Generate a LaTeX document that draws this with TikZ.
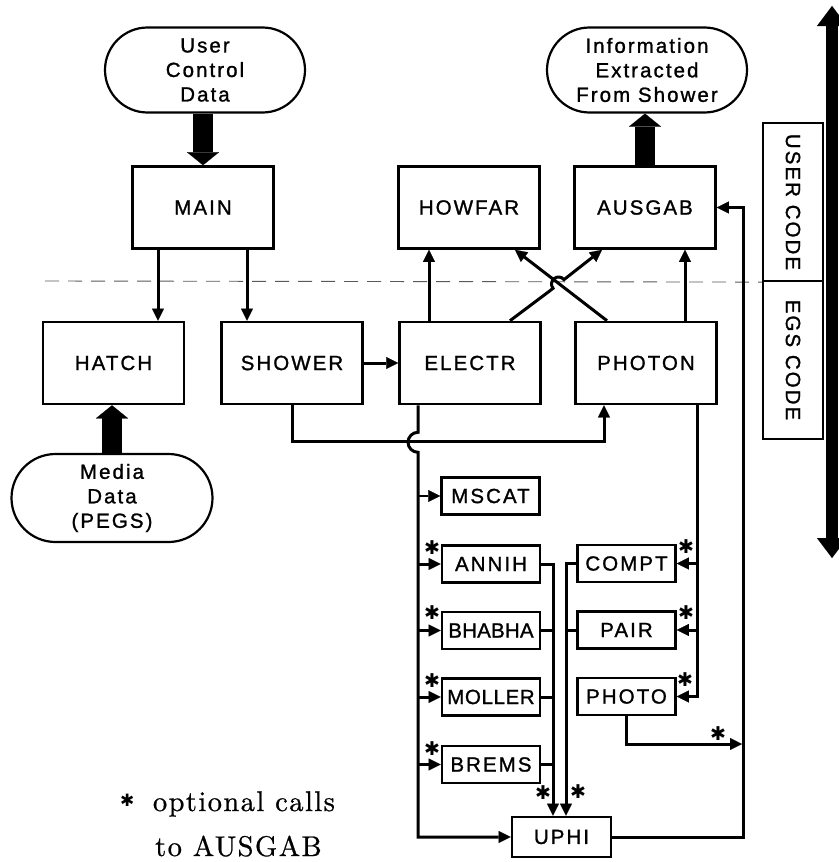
\documentclass[tikz,border=0pt]{standalone}
\usepackage{fontspec}
\usepackage{graphicx}
\newfontfamily\labfont[LetterSpace=10,FakeBold=1.2]{Liberation Sans}
\newfontfamily\legfont[LetterSpace=5,FakeBold=0.7]{lmroman10-regular.otf}
\newfontfamily\starfont{DejaVu Sans}
\usetikzlibrary{arrows.meta,shapes.misc,calc}
\begin{document}
\begin{tikzpicture}[x=1pt,y=1pt,
  lab/.style={font=\labfont\fontsize{20.5}{24.5}\selectfont},
  bigbox/.style={draw,line width=2.6pt,minimum width=141pt,minimum height=82pt,inner sep=0pt,lab},
  smallbox/.style={draw,line width=2.6pt,minimum width=98pt,minimum height=37pt,inner sep=0pt,lab},
  stadium/.style={draw,rounded rectangle,line width=2.2pt,minimum width=200pt,minimum height=85pt,inner sep=0pt,align=center,lab},
  codebox/.style={draw,line width=2.2pt,minimum width=60pt,minimum height=158pt,inner sep=0pt,lab},
  conn/.style={line width=3pt,-{Triangle[length=12pt,width=12pt,line width=0.1pt]}},
  plain/.style={line width=3pt},
  fat/.style={line width=20pt,-{Triangle[length=13pt,width=32pt,line width=0.1pt]}},
  starmark/.style={inner sep=0pt,font=\starfont\fontsize{19}{19}\selectfont},
  legend/.style={anchor=base west,inner sep=0pt,font=\legfont\fontsize{28.5}{33}\selectfont},
  ]
\useasboundingbox (0,0) rectangle (838,-862);

% terminals
\node[stadium] (ucd) at (205,-70) {User\\Control\\Data};
\node[stadium] (info) at (647,-70) {Information\\Extracted\\From Shower};
\node[stadium,minimum width=201pt,minimum height=88pt] (media) at (112,-498) {Media\\Data\\(PEGS)};

% big boxes
\node[bigbox] (main) at (203,-207.5) {MAIN};
\node[bigbox] (howfar) at (469,-207.5) {HOWFAR};
\node[bigbox] (ausgab) at (645,-207.5) {AUSGAB};
\node[bigbox] (hatch) at (113.5,-363) {HATCH};
\node[bigbox] (shower) at (292,-363) {SHOWER};
\node[bigbox] (electr) at (470,-363) {ELECTR};
\node[bigbox] (photon) at (646,-363) {PHOTON};

% small boxes
\node[smallbox] (mscat) at (490.5,-496) {MSCAT};
\node[smallbox] (annih) at (491,-564) {ANNIH};
\node[smallbox] (bhabha) at (491,-630.5) {\addfontfeatures{LetterSpace=1}BHABHA};
\node[smallbox] (moller) at (491,-697) {\addfontfeatures{LetterSpace=3}MOLLER};
\node[smallbox] (brems) at (491,-764.5) {BREMS};
\node[smallbox] (compt) at (626.5,-563.5) {COMPT};
\node[smallbox] (pair) at (626.5,-630) {PAIR};
\node[smallbox] (photo) at (626.5,-696.5) {PHOTO};
\node[smallbox,minimum width=99pt,minimum height=40pt] (uphi) at (561.5,-837) {UPHI};

% code boxes
\node[codebox] (ucbox) at (793,-202) {\rotatebox{-90}{USER CODE}};
\node[codebox] (egsbox) at (793,-360) {\rotatebox{-90}{EGS CODE}};

% free coordinates
\coordinate (dl) at (45,-281);
\coordinate (bt) at (832,-6);
\coordinate (bb) at (832,-558);
\coordinate (m1) at ($(main.south)+(-45,0)$);
\coordinate (m2) at ($(main.south)+(44,0)$);
\coordinate (e1) at ($(electr.north)+(-41,0)$);
\coordinate (p1) at ($(photon.north)+(39,0)$);
\coordinate (sp) at (604,-441);
\coordinate (ev) at ($(electr.south)+(-52,0)$);
\coordinate (pv) at ($(photon.south)+(51,0)$);
\coordinate (ml) at ($(uphi.north)+(-8.5,0)$);
\coordinate (mr) at ($(uphi.north)+(4.5,0)$);
\coordinate (rv) at ($(ausgab.east)+(27,0)$);
\coordinate (pj) at (742,-744);

% dashed separator
\draw[line width=0.9pt,dash pattern=on 14pt off 9pt,black!65] (dl) -- (ucbox.south west);

% big double arrow
\draw[line width=12pt,{Triangle[length=20pt,width=30pt,line width=0.1pt]}-{Triangle[length=20pt,width=30pt,line width=0.1pt]}] (bt) -- (bb);

% fat data arrows
\draw[fat] (ucd.south -| main.north) -- (main.north);
\draw[fat] (ausgab.north) -- (ausgab.north |- info.south);
\draw[fat] (media.north) -- (media.north |- hatch.south);

% upper connectors
\draw[conn] (m1) -- (m1 |- hatch.north);
\draw[conn] (m2) -- (m2 |- shower.north);
\draw[conn] (shower.east) -- (electr.west);
\draw[conn] (e1) -- (e1 |- howfar.south);
\draw[conn] (p1) -- (p1 |- ausgab.south);
\draw[conn] ($(photon.north)+(-39,0)$) -- ($(howfar.south)+(46,0)$);
\draw[conn] ($(electr.north)+(40,0)$) -- (553.05,-288.39)
  arc[start angle=218.8,end angle=38.8,radius=7] -- ($(ausgab.south)+(-43,0)$);
\draw[conn] (shower.south) |- (sp) -- (sp |- photon.south);

% electron branch
\draw[conn] (ev) -- ++(0,-27) arc[start angle=90,end angle=270,radius=10]
  -- (ev |- uphi.west) -- (uphi.west);
\draw[line width=1.3pt,-{Triangle[length=12pt,width=12pt,line width=0.1pt]}] (ev |- mscat.west) -- (mscat.west);
\foreach \n in {annih,bhabha,moller,brems}{
  \draw[conn] (ev |- \n.west) -- (\n.west);
}

% photon branch
\draw[conn] (pv) |- (photo.east);
\draw[conn] (pv |- compt.east) -- (compt.east);
\draw[conn] (pv |- pair.east) -- (pair.east);

% to UPHI
\draw[conn] (annih.east) -| (ml);
\draw[conn] (compt.west) -| (mr);
\foreach \n in {bhabha,moller,brems}{
  \draw[plain] (\n.east) -- (\n.east -| ml);
}
\draw[plain] (pair.west) -- (pair.west -| mr);

% to AUSGAB
\draw[conn] (uphi.east) -| (rv) -- (ausgab.east);
\draw[conn] (photo.south) |- (pj);

% optional-call stars
\node[starmark] (s1) at (432,-548) {✱};
\node[starmark] (s2) at (432,-613) {✱};
\node[starmark] (s3) at (432,-681) {✱};
\node[starmark] (s4) at (432,-749) {✱};
\node[starmark] (s5) at (686,-547) {✱};
\node[starmark] (s6) at (686,-613) {✱};
\node[starmark] (s7) at (685,-680) {✱};
\node[starmark] (s8) at (718,-734) {✱};
\node[starmark] (s9) at (543,-793) {✱};
\node[starmark] (s10) at (578,-792) {✱};

% legend
\node[legend] (leg1) at (120,-811) {\raisebox{5pt}{\starfont\fontsize{17}{17}\selectfont ✱}\hspace{0.65em}optional calls};
\node[legend] (leg2) at (155,-856) {to AUSGAB};
\end{tikzpicture}
\end{document}
